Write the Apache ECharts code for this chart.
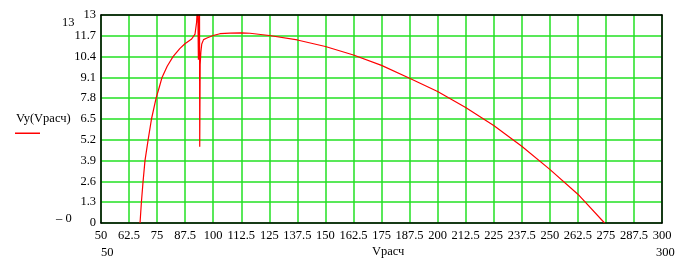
<!DOCTYPE html>
<html>
<head>
<meta charset="utf-8">
<script src="https://cdn.jsdelivr.net/npm/echarts@6/dist/echarts.min.js"></script>
<style>html,body{margin:0;padding:0;background:#fff}#c{width:688px;height:260px}</style>
</head>
<body>
<div id="c"></div>
<script>
// Vрасч values
var vX = [67.4, 68.0, 68.75, 69.6, 71.0, 72.5, 74.55, 76.0, 77.2, 79.5, 82.1, 85.1, 87.4, 90.4, 91.9, 92.6, 93.1, 93.4, 93.9, 94.0, 94.2, 94.5, 94.9, 95.7, 97.2, 98.6, 100.0, 103.0, 107.5, 112.5, 116.4, 125.0, 137.5, 150.0, 162.5, 175.0, 187.5, 200.0, 212.5, 225.0, 237.5, 250.0, 262.5, 265.5, 274.4];
// Vy(Vрасч) values
var vY = [0, 1.3, 2.6, 3.9, 5.2, 6.5, 7.8, 8.5, 9.1, 9.8, 10.4, 10.9, 11.2, 11.5, 11.81, 12.54, 14, 10.2, 14, 4.77, 9.9, 10.67, 11.19, 11.46, 11.56, 11.64, 11.72, 11.83, 11.87, 11.88, 11.86, 11.72, 11.44, 11.03, 10.5, 9.85, 9.05, 8.22, 7.22, 6.1, 4.8, 3.35, 1.8, 1.35, 0];
var xMin = 50, xMax = 300, xStep = 12.5;
var yMin = 0, yMax = 13, yStep = 1.3;

var data = vX.map(function (x, i) { return [x, vY[i]]; });
var FONT = 'Liberation Serif';
var chart = echarts.init(document.getElementById('c'));
function fmt(v) { return String(Math.round(v * 10) / 10); }
var GREEN = '#22e022';
chart.setOption({
  animation: false,
  backgroundColor: '#fff',
  grid: { left: 101, right: 26, top: 15, bottom: 37, show: false },
  xAxis: [{
    type: 'value', min: xMin, max: xMax, interval: xStep,
    axisLine: { show: true, lineStyle: { color: '#000', width: 1.5 } },
    axisTick: { show: false },
    splitLine: { show: true, lineStyle: { color: GREEN, width: 1.5 } },
    axisLabel: { color: '#000', fontFamily: FONT, fontSize: 12.5, margin: 6, formatter: fmt }
  }, {
    type: 'value', min: xMin, max: xMax, interval: xStep, position: 'top', z: 10,
    axisLine: { show: true, onZero: false, lineStyle: { color: '#000', width: 1.5 } },
    axisTick: { show: false }, splitLine: { show: false }, axisLabel: { show: false }
  }],
  yAxis: [{
    type: 'value', min: yMin, max: yMax, interval: yStep,
    axisLine: { show: true, lineStyle: { color: '#000', width: 1.5 } },
    axisTick: { show: false },
    splitLine: { show: true, lineStyle: { color: GREEN, width: 1.5 } },
    axisLabel: { color: '#000', fontFamily: FONT, fontSize: 12.5, margin: 5, formatter: fmt }
  }, {
    type: 'value', min: yMin, max: yMax, interval: yStep, position: 'right', z: 10,
    axisLine: { show: true, onZero: false, lineStyle: { color: '#000', width: 1.5 } },
    axisTick: { show: false }, splitLine: { show: false }, axisLabel: { show: false }
  }],
  series: [{
    type: 'line', data: data, showSymbol: false, smooth: false, clip: true, z: 5,
    lineStyle: { color: '#ff0000', width: 1.2 }
  }],
  graphic: [
    { type: 'text', left: 62, top: 16, style: { text: '13', fontFamily: FONT, fontSize: 12.5, fill: '#000' } },
    { type: 'text', left: 56, top: 212, style: { text: '\u2013 0', fontFamily: FONT, fontSize: 12.5, fill: '#000' } },
    { type: 'text', left: 16, top: 112, style: { text: 'Vy(Vрасч)', fontFamily: FONT, fontSize: 12.5, fill: '#000' } },
    { type: 'rect', left: 15, top: 132.5, shape: { width: 25, height: 1.5 }, style: { fill: '#ff0000' } },
    { type: 'text', left: 101, top: 246, style: { text: '50', fontFamily: FONT, fontSize: 12.5, fill: '#000' } },
    { type: 'text', left: 656, top: 246, style: { text: '300', fontFamily: FONT, fontSize: 12.5, fill: '#000' } },
    { type: 'text', left: 372, top: 245, style: { text: 'Vрасч', fontFamily: FONT, fontSize: 12.5, fill: '#000' } }
  ]
});
</script>
</body>
</html>
